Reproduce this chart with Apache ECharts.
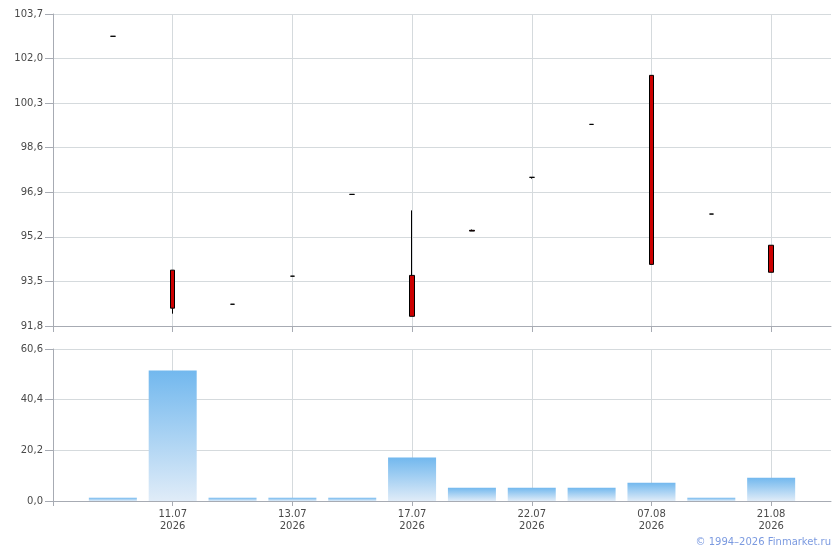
<!DOCTYPE html>
<html>
<head>
<meta charset="utf-8">
<script src="https://cdn.jsdelivr.net/npm/echarts@6/dist/echarts.min.js"></script>
<style>
html,body{margin:0;padding:0;background:#fff;}
#chart{width:840px;height:550px;}
</style>
</head>
<body>
<div id="chart"></div>
<script>
// Trading dates (only every second one is labelled on the axis)
const dates = ['10.07\n2026','11.07\n2026','12.07\n2026','13.07\n2026','16.07\n2026','17.07\n2026',
               '20.07\n2026','22.07\n2026','24.07\n2026','07.08\n2026','14.08\n2026','21.08\n2026'];
const opens  = [102.85, 93.93, 92.63, 93.70, 96.82, 93.73, 95.45, 97.47, 99.49, 101.36, 96.07, 94.88];
const closes = [102.85, 92.48, 92.63, 93.70, 96.82, 92.17, 95.42, 97.47, 99.49,  94.15, 96.07, 93.85];
const lows   = [102.85, 92.27, 92.63, 93.70, 96.82, 92.17, 95.42, 97.42, 99.49,  94.15, 96.07, 93.85];
const highs  = [102.85, 93.93, 92.63, 93.70, 96.82, 96.21, 95.48, 97.47, 99.49, 101.36, 96.07, 94.88];
const volumes = [1.3, 52.0, 1.3, 1.3, 1.3, 17.3, 5.3, 5.3, 5.3, 7.3, 1.3, 9.3];
const priceTicks = {min: 91.8, max: 103.7, interval: 1.7};
const volTicks = {min: 0, max: 60.6, interval: 20.2};

// pad one empty slot on each side of the category axis
const cats = [''].concat(dates).concat(['']);
const candleData = [['-','-','-','-']]
  .concat(dates.map((d, i) => [opens[i], closes[i], lows[i], highs[i]]))
  .concat([['-','-','-','-']]);
const volData = [null].concat(volumes).concat([null]);

const fmt = v => v.toFixed(1).replace('.', ',');
const evenIdx = (i) => i % 2 === 0;
const labelIdx = (i) => i % 2 === 0 && i > 0 && i < cats.length - 1;

const gridColor = '#d5dadd';
const axisColor = '#a7abb3';
const textColor = '#4a4a4a';
const font = 'DejaVu Sans, Verdana, sans-serif';

const chart = echarts.init(document.getElementById('chart'), null, {renderer: 'canvas'});
chart.setOption({
  animation: false,
  backgroundColor: '#fff',
  grid: [
    {left: 53, top: 14, width: 778, height: 312},
    {left: 53, top: 349, width: 778, height: 152}
  ],
  xAxis: [
    {
      type: 'category', gridIndex: 0, data: cats, boundaryGap: false,
      axisLine: {lineStyle: {color: axisColor}},
      axisTick: {show: true, interval: evenIdx, length: 6, lineStyle: {color: axisColor}},
      axisLabel: {show: false},
      splitLine: {show: true, interval: labelIdx, lineStyle: {color: gridColor}}
    },
    {
      type: 'category', gridIndex: 1, data: cats, boundaryGap: false,
      axisLine: {lineStyle: {color: axisColor}},
      axisTick: {show: true, interval: evenIdx, length: 5, lineStyle: {color: axisColor}},
      axisLabel: {show: true, interval: labelIdx, color: textColor, fontSize: 10, fontFamily: font,
                  lineHeight: 12, margin: 7},
      splitLine: {show: true, interval: labelIdx, lineStyle: {color: gridColor}}
    }
  ],
  yAxis: [
    {
      type: 'value', gridIndex: 0, min: priceTicks.min, max: priceTicks.max, interval: priceTicks.interval,
      axisLine: {show: true, lineStyle: {color: axisColor}},
      axisTick: {show: true, length: 8, lineStyle: {color: axisColor}},
      axisLabel: {color: textColor, fontSize: 10, fontFamily: font, margin: 10, formatter: fmt},
      splitLine: {show: true, lineStyle: {color: gridColor}}
    },
    {
      type: 'value', gridIndex: 1, min: volTicks.min, max: volTicks.max, interval: volTicks.interval,
      axisLine: {show: true, lineStyle: {color: axisColor}},
      axisTick: {show: true, length: 8, lineStyle: {color: axisColor}},
      axisLabel: {color: textColor, fontSize: 10, fontFamily: font, margin: 10, formatter: fmt},
      splitLine: {show: true, lineStyle: {color: gridColor}}
    }
  ],
  series: [
    {
      type: 'candlestick', xAxisIndex: 0, yAxisIndex: 0, data: candleData, barWidth: 5,
      itemStyle: {color: '#cc0000', color0: '#cc0000', borderColor: '#000', borderColor0: '#000', borderWidth: 1}
    },
    {
      type: 'bar', xAxisIndex: 1, yAxisIndex: 1, data: volData, barWidth: 48,
      itemStyle: {
        color: new echarts.graphic.LinearGradient(0, 0, 0, 1, [
          {offset: 0, color: '#72b8ee'},
          {offset: 1, color: '#e0ecf8'}
        ])
      }
    }
  ],
  graphic: [
    {type: 'text', right: 9, top: 537,
     style: {text: '© 1994–2026 Finmarket.ru', fill: '#7b9ae0', font: '10px ' + font}}
  ]
});
</script>
</body>
</html>
